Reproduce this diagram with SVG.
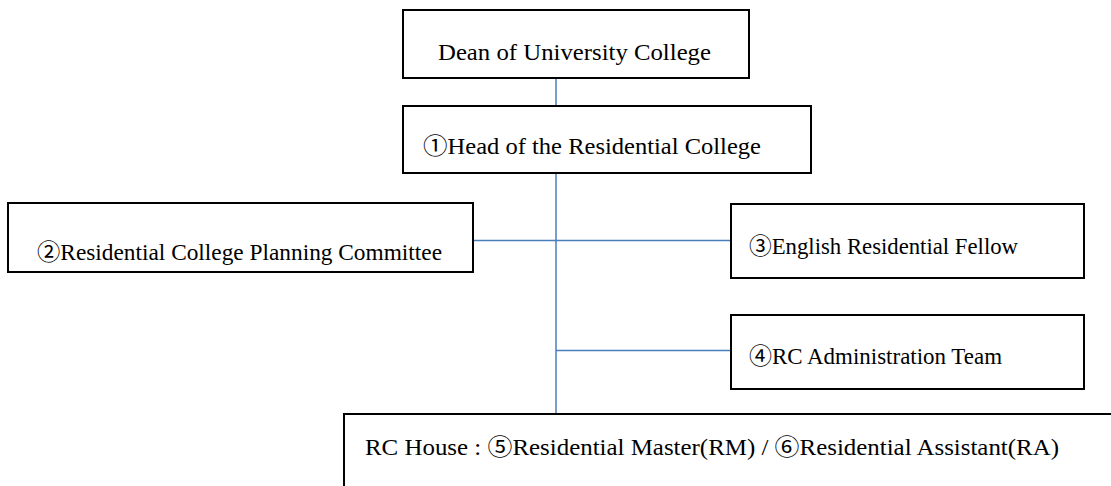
<svg xmlns="http://www.w3.org/2000/svg" width="1111" height="486" viewBox="0 0 1111 486">
<style>
.box{fill:#fff;stroke:#000;stroke-width:2}
.lbl{font-family:'Liberation Serif','DejaVu Serif','Noto Sans CJK JP',serif;font-size:23px;fill:#000}
.con{stroke:#4A7EBB;stroke-width:1.5;fill:none}
</style>
<rect width="1111" height="486" fill="#fff"/>
<g id="connectors">
<line class="con" x1="556" y1="78" x2="556" y2="106"/>
<line class="con" x1="556" y1="174" x2="556" y2="414"/>
<line class="con" x1="473" y1="240.5" x2="731" y2="240.5"/>
<line class="con" x1="556" y1="350.5" x2="731" y2="350.5"/>
</g>
<g id="dean">
<rect class="box" x="403" y="10" width="346" height="68"/>
<text class="lbl" x="438" y="60" textLength="273" lengthAdjust="spacingAndGlyphs">Dean of University College</text>
</g>
<g id="head">
<rect class="box" x="403" y="106" width="408" height="67"/>
<text class="lbl" x="423" y="154" textLength="338" lengthAdjust="spacingAndGlyphs">①Head of the Residential College</text>
</g>
<g id="committee">
<rect class="box" x="8" y="203" width="465" height="69"/>
<text class="lbl" x="37" y="260" textLength="405" lengthAdjust="spacingAndGlyphs">②Residential College Planning Committee</text>
</g>
<g id="fellow">
<rect class="box" x="731" y="204" width="353" height="74"/>
<text class="lbl" x="749" y="254" textLength="269" lengthAdjust="spacingAndGlyphs">③English Residential Fellow</text>
</g>
<g id="admin">
<rect class="box" x="731" y="315" width="353" height="74"/>
<text class="lbl" x="749" y="364" textLength="253" lengthAdjust="spacingAndGlyphs">④RC Administration Team</text>
</g>
<g id="house">
<rect class="box" x="344" y="414" width="800" height="100"/>
<text class="lbl" x="365" y="455" textLength="694" lengthAdjust="spacingAndGlyphs">RC House : ⑤Residential Master(RM) / ⑥Residential Assistant(RA)</text>
</g>
</svg>
